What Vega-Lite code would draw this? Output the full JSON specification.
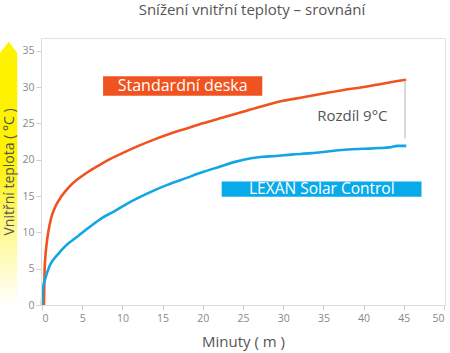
{
  "$schema": "https://vega.github.io/schema/vega-lite/v6.json",
  "width": 404,
  "height": 267,
  "autosize": "none",
  "padding": {"left": 41, "top": 38, "right": 5, "bottom": 48},
  "background": "white",
  "config": {
    "font": "Open Sans",
    "view": {"stroke": "#e2e2e2", "strokeWidth": 1},
    "axis": {
      "grid": false,
      "domainColor": "#dcdcdc",
      "tickColor": "#cfcfcf",
      "tickSize": 5,
      "labelColor": "#888888",
      "labelFontSize": 10.5,
      "labelFont": "Open Sans",
      "labelOverlap": false,
      "labelSeparation": 0,
      "titleColor": "#555555",
      "titleFont": "Open Sans",
      "titleFontSize": 15,
      "titleFontWeight": "normal"
    }
  },
  "title": {
    "text": "Snížení vnitřní teploty – srovnání",
    "font": "Open Sans",
    "fontSize": 15,
    "fontWeight": "normal",
    "color": "#555555",
    "anchor": "middle",
    "dx": 9,
    "offset": 20
  },
  "datasets": {
    "curves": [
      {"series": "Standardní deska", "min": 0.25, "temp": 0},
      {"series": "Standardní deska", "min": 0.28, "temp": 2},
      {"series": "Standardní deska", "min": 0.33, "temp": 4.9},
      {"series": "Standardní deska", "min": 0.45, "temp": 7},
      {"series": "Standardní deska", "min": 0.6, "temp": 8.6},
      {"series": "Standardní deska", "min": 0.78, "temp": 10},
      {"series": "Standardní deska", "min": 1.1, "temp": 11.8},
      {"series": "Standardní deska", "min": 1.6, "temp": 13.4},
      {"series": "Standardní deska", "min": 2.45, "temp": 15.0},
      {"series": "Standardní deska", "min": 3.5, "temp": 16.4},
      {"series": "Standardní deska", "min": 5.3, "temp": 18.0},
      {"series": "Standardní deska", "min": 7.2, "temp": 19.3},
      {"series": "Standardní deska", "min": 8.5, "temp": 20.1},
      {"series": "Standardní deska", "min": 10, "temp": 20.9},
      {"series": "Standardní deska", "min": 12, "temp": 21.9},
      {"series": "Standardní deska", "min": 14, "temp": 22.8},
      {"series": "Standardní deska", "min": 16, "temp": 23.6},
      {"series": "Standardní deska", "min": 18, "temp": 24.3},
      {"series": "Standardní deska", "min": 20, "temp": 25.0},
      {"series": "Standardní deska", "min": 22.5, "temp": 25.8},
      {"series": "Standardní deska", "min": 25, "temp": 26.6},
      {"series": "Standardní deska", "min": 27.5, "temp": 27.4},
      {"series": "Standardní deska", "min": 30, "temp": 28.1},
      {"series": "Standardní deska", "min": 32.5, "temp": 28.6},
      {"series": "Standardní deska", "min": 35, "temp": 29.1},
      {"series": "Standardní deska", "min": 37.5, "temp": 29.6},
      {"series": "Standardní deska", "min": 40, "temp": 30.0},
      {"series": "Standardní deska", "min": 42.5, "temp": 30.5},
      {"series": "Standardní deska", "min": 45.3, "temp": 31.0},
      {"series": "LEXAN Solar Control", "min": 0, "temp": 0},
      {"series": "LEXAN Solar Control", "min": 0.05, "temp": 1.5},
      {"series": "LEXAN Solar Control", "min": 0.15, "temp": 2.5},
      {"series": "LEXAN Solar Control", "min": 0.4, "temp": 3.6},
      {"series": "LEXAN Solar Control", "min": 1.0, "temp": 5.5},
      {"series": "LEXAN Solar Control", "min": 2, "temp": 7.0},
      {"series": "LEXAN Solar Control", "min": 3, "temp": 8.2},
      {"series": "LEXAN Solar Control", "min": 4.5, "temp": 9.5},
      {"series": "LEXAN Solar Control", "min": 6, "temp": 10.8},
      {"series": "LEXAN Solar Control", "min": 7.5, "temp": 12.0},
      {"series": "LEXAN Solar Control", "min": 9, "temp": 12.9},
      {"series": "LEXAN Solar Control", "min": 11, "temp": 14.2},
      {"series": "LEXAN Solar Control", "min": 13, "temp": 15.3},
      {"series": "LEXAN Solar Control", "min": 15.5, "temp": 16.5},
      {"series": "LEXAN Solar Control", "min": 18, "temp": 17.5},
      {"series": "LEXAN Solar Control", "min": 20, "temp": 18.3},
      {"series": "LEXAN Solar Control", "min": 22, "temp": 19.0},
      {"series": "LEXAN Solar Control", "min": 24, "temp": 19.7},
      {"series": "LEXAN Solar Control", "min": 26, "temp": 20.2},
      {"series": "LEXAN Solar Control", "min": 27.5, "temp": 20.4},
      {"series": "LEXAN Solar Control", "min": 29, "temp": 20.5},
      {"series": "LEXAN Solar Control", "min": 31, "temp": 20.7},
      {"series": "LEXAN Solar Control", "min": 33.5, "temp": 20.9},
      {"series": "LEXAN Solar Control", "min": 36, "temp": 21.2},
      {"series": "LEXAN Solar Control", "min": 38, "temp": 21.4},
      {"series": "LEXAN Solar Control", "min": 40, "temp": 21.5},
      {"series": "LEXAN Solar Control", "min": 42, "temp": 21.6},
      {"series": "LEXAN Solar Control", "min": 43.2, "temp": 21.7},
      {"series": "LEXAN Solar Control", "min": 44.2, "temp": 21.9},
      {"series": "LEXAN Solar Control", "min": 45.3, "temp": 21.9}
    ],
    "arrow": [
      {"ay": -0.2, "ax1": -5.22, "ax2": -3.07},
      {"ay": 34.7, "ax1": -5.22, "ax2": -3.07},
      {"ay": 36.25, "ax1": -4.145, "ax2": -4.145}
    ]
  },
  "layer": [
    {
      "data": {"name": "curves"},
      "mark": {"type": "line", "strokeWidth": 2.6, "interpolate": "monotone"},
      "encoding": {
        "x": {
          "field": "min", "type": "quantitative",
          "scale": {"domain": [-0.12, 50.12], "nice": false, "zero": false},
          "axis": {
            "values": [0, 5, 10, 15, 20, 25, 30, 35, 40, 45, 50],
            "title": "Minuty ( m )",
            "labelPadding": 3,
            "titlePadding": 11,
            "zindex": 1
          }
        },
        "y": {
          "field": "temp", "type": "quantitative",
          "scale": {"domain": [0, 36.75], "nice": false, "zero": false},
          "axis": {
            "values": [0, 5, 10, 15, 20, 25, 30, 35],
            "tickCount": 8,
            "format": "d",
            "title": "Vnitřní teplota ( °C )",
            "titleFontSize": 14,
            "labelPadding": 2,
            "labelOverlap": false,
            "labelBound": false,
            "labelFlush": false,
            "titlePadding": 5,
            "zindex": 1
          }
        },
        "color": {
          "field": "series", "type": "nominal",
          "scale": {"domain": ["LEXAN Solar Control", "Standardní deska"], "range": ["#12a6e6", "#f0531f"]},
          "legend": null
        }
      }
    },
    {
      "data": {"name": "arrow"},
      "mark": {
        "type": "area",
        "orient": "horizontal",
        "interpolate": "linear",
        "color": {
          "gradient": "linear",
          "x1": 0, "y1": 0, "x2": 0, "y2": 1,
          "stops": [
            {"offset": 0, "color": "#fff200"},
            {"offset": 0.45, "color": "#fff200"},
            {"offset": 0.75, "color": "#fff9a0"},
            {"offset": 1, "color": "#ffffff"}
          ]
        }
      },
      "encoding": {
        "y": {"field": "ay", "type": "quantitative"},
        "x": {"field": "ax1", "type": "quantitative"},
        "x2": {"field": "ax2"}
      }
    },
    {
      "data": {"values": [{}]},
      "mark": {"type": "rect", "color": "#f0531f"},
      "encoding": {
        "x": {"datum": 7.6, "type": "quantitative"},
        "x2": {"datum": 27.4},
        "y": {"datum": 28.8, "type": "quantitative"},
        "y2": {"datum": 31.5}
      }
    },
    {
      "data": {"values": [{}]},
      "mark": {"type": "text", "text": "Standardní deska", "color": "white", "fontSize": 16, "font": "Open Sans", "align": "center", "baseline": "middle"},
      "encoding": {
        "x": {"datum": 17.5, "type": "quantitative"},
        "y": {"datum": 30.15, "type": "quantitative"}
      }
    },
    {
      "data": {"values": [{}]},
      "mark": {"type": "rect", "color": "#08aaea"},
      "encoding": {
        "x": {"datum": 22.35, "type": "quantitative"},
        "x2": {"datum": 47.2},
        "y": {"datum": 14.9, "type": "quantitative"},
        "y2": {"datum": 17.0}
      }
    },
    {
      "data": {"values": [{}]},
      "mark": {"type": "text", "text": "LEXAN Solar Control", "color": "white", "fontSize": 15.5, "font": "Open Sans", "align": "center", "baseline": "middle"},
      "encoding": {
        "x": {"datum": 34.8, "type": "quantitative"},
        "y": {"datum": 15.95, "type": "quantitative"}
      }
    },
    {
      "data": {"values": [{}]},
      "mark": {"type": "rule", "color": "#b5b5b5", "strokeWidth": 1},
      "encoding": {
        "x": {"datum": 45.15, "type": "quantitative"},
        "y": {"datum": 22.9, "type": "quantitative"},
        "y2": {"datum": 30.9}
      }
    },
    {
      "data": {"values": [{}]},
      "mark": {"type": "text", "text": "Rozdíl 9°C", "color": "#555555", "fontSize": 15, "font": "Open Sans", "align": "center", "baseline": "middle"},
      "encoding": {
        "x": {"datum": 38.6, "type": "quantitative"},
        "y": {"datum": 26.0, "type": "quantitative"}
      }
    }
  ]
}
